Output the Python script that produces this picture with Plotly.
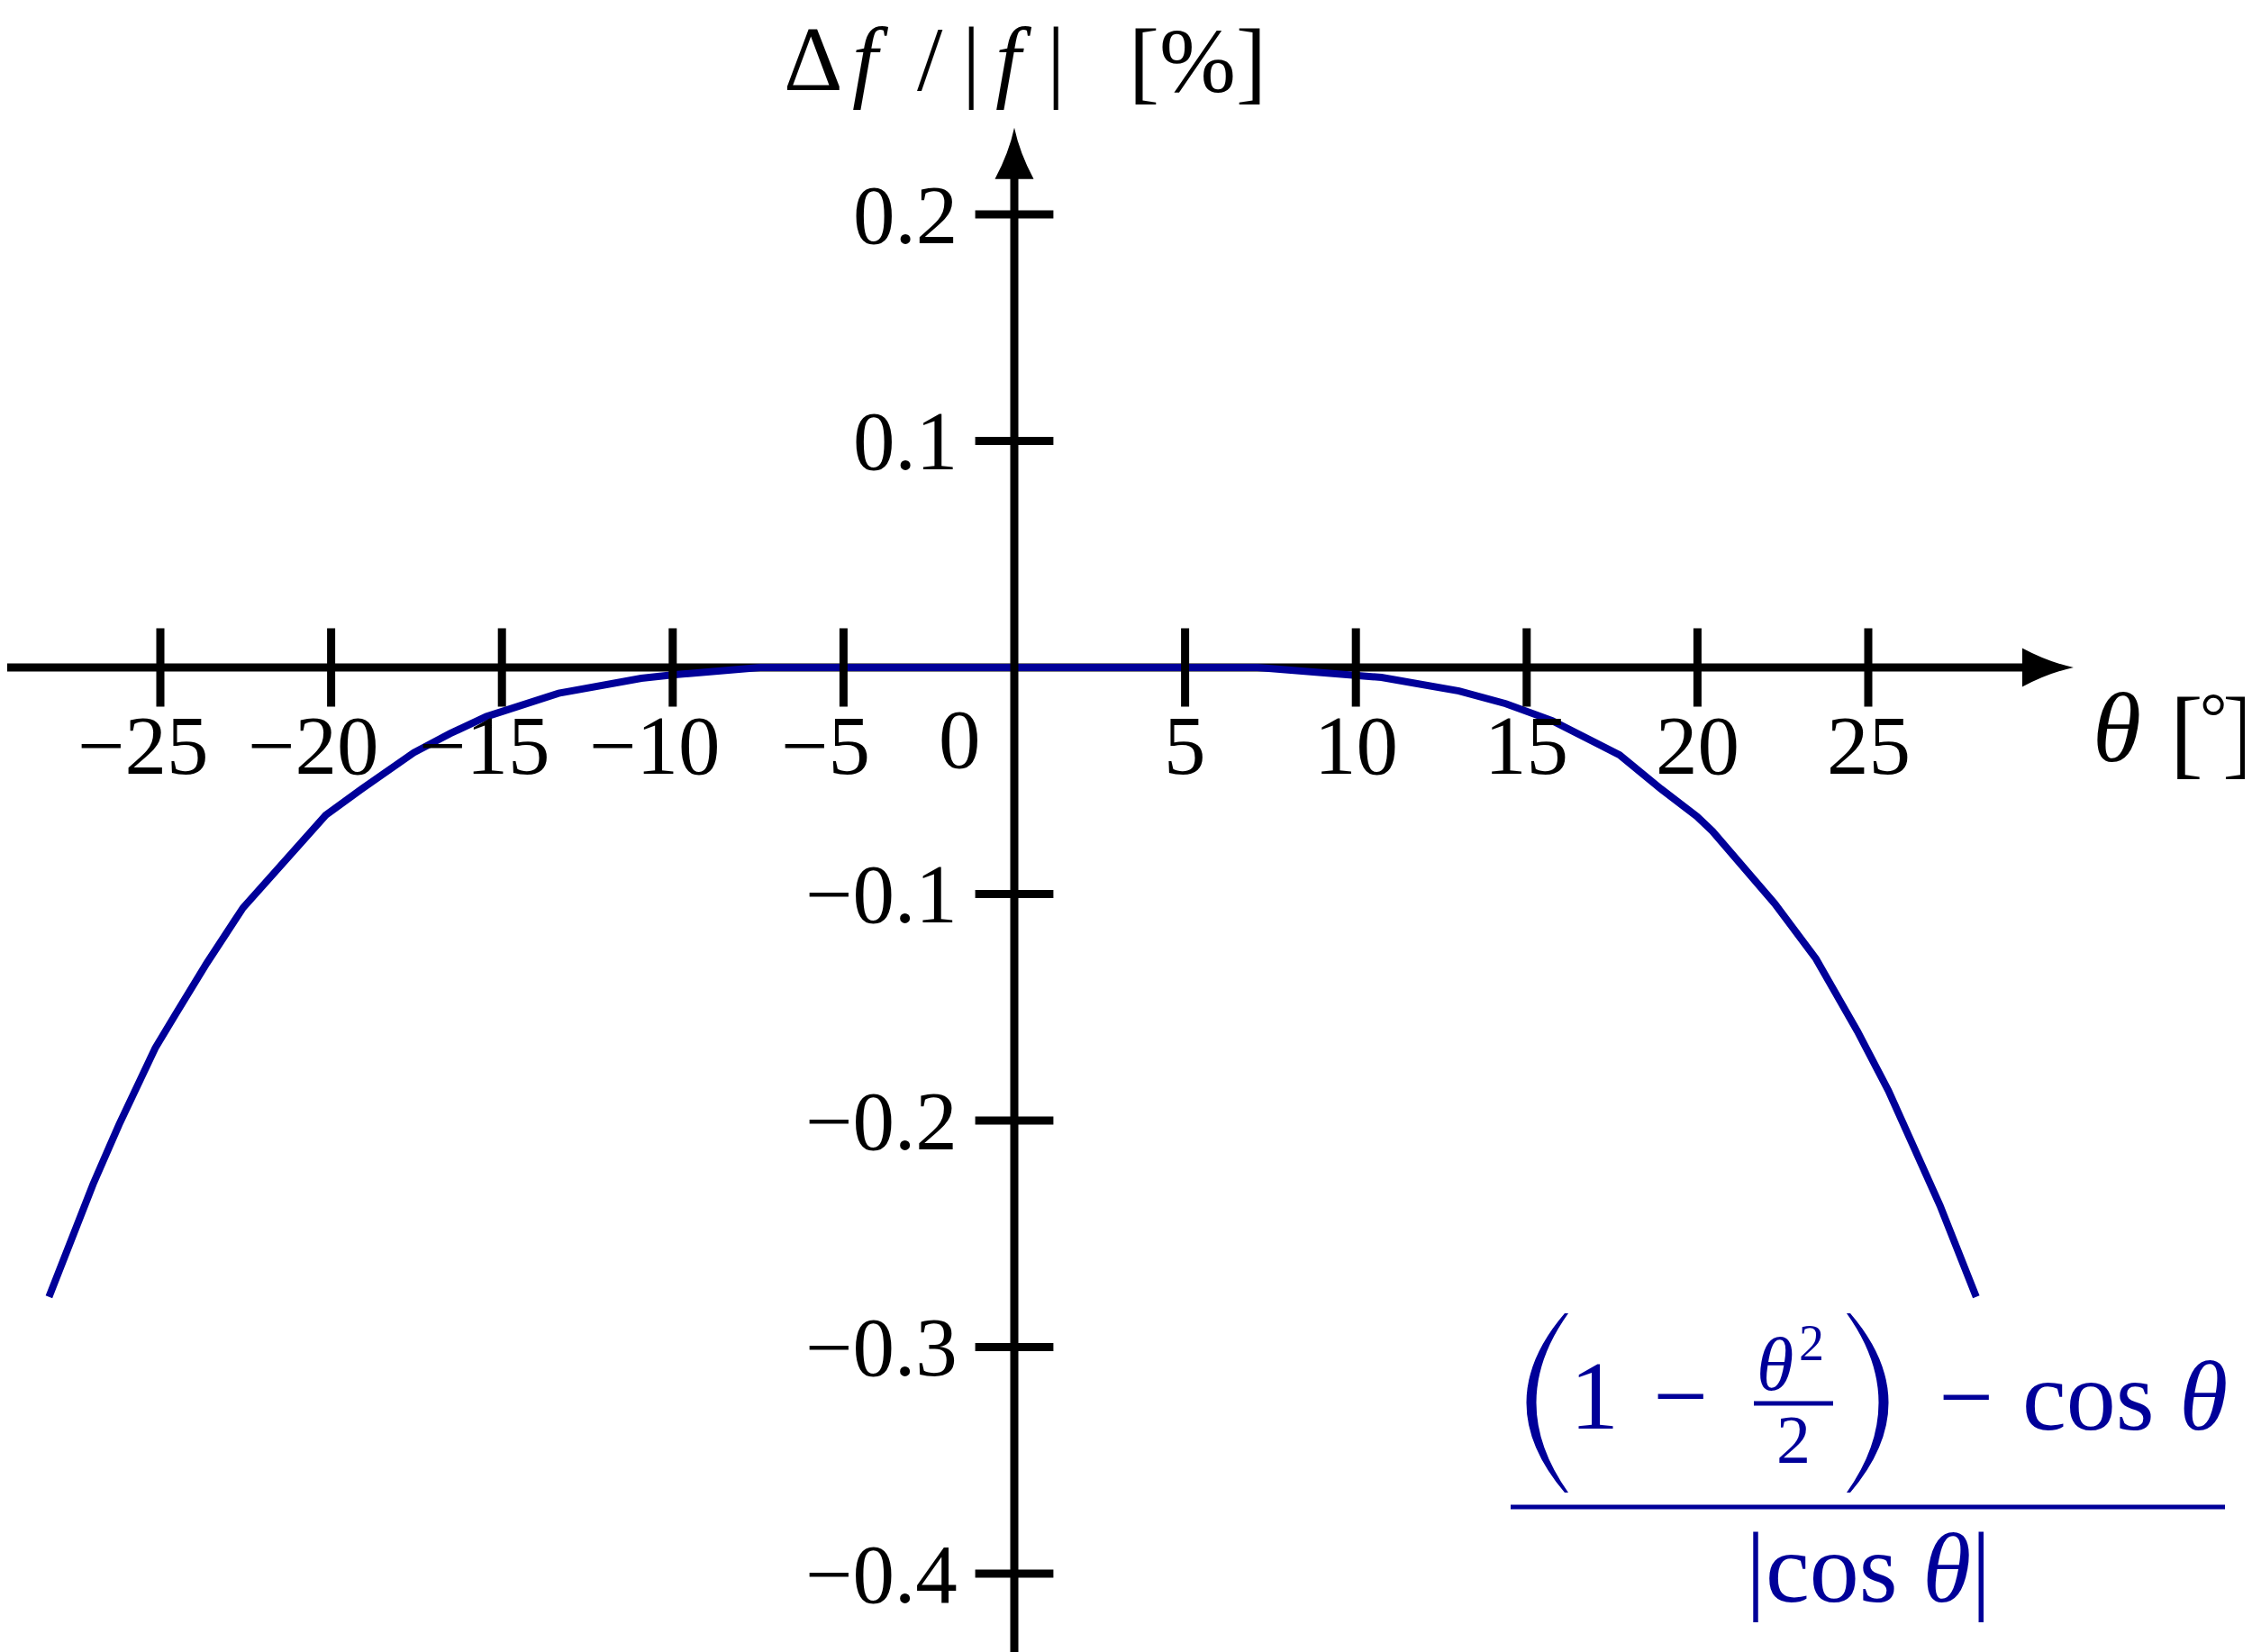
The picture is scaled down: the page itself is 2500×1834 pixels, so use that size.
import plotly.graph_objects as go

# curve (theta in degrees, relative error in %)
theta_deg = [-28.26, -26.97, -26.21, -25.15, -24.55, -23.64, -22.58, -21.52,
             -20.16, -19.10, -17.58, -16.52, -15.46, -13.34, -10.92, -10.01,
             -7.44, 7.12, 9.99, 10.75, 13.02, 14.39, 15.75, 17.72, 18.93,
             19.99, 20.44, 22.26, 23.47, 24.68, 25.59, 26.49, 27.10, 28.16]
delta_pct = [-0.2778, -0.2281, -0.2018, -0.1680, -0.1530, -0.1305, -0.1061, -0.0883,
             -0.0652, -0.0536, -0.0376, -0.0292, -0.0217, -0.0114, -0.0048, -0.0033,
             0.0, 0.0, -0.0033, -0.0044, -0.0104, -0.0160, -0.0235, -0.0386, -0.0536,
             -0.0658, -0.0723, -0.1042, -0.1286, -0.1605, -0.1868, -0.2168, -0.2375, -0.2778]

x_ticks = [-25, -20, -15, -10, -5, 5, 10, 15, 20, 25]
x_tick_labels = ['\u221225', '\u221220', '\u221215', '\u221210', '\u22125',
                 '5', '10', '15', '20', '25']
y_ticks = [0.2, 0.1, -0.1, -0.2, -0.3, -0.4]
y_tick_labels = ['0.2', '0.1', '\u22120.1', '\u22120.2', '\u22120.3', '\u22120.4']

# the page body has an 8px margin, so the figure is a bit smaller than the window
PAGE_PAD = 8
W, H = 2500 - PAGE_PAD, 1834 - PAGE_PAD
ORIGIN_X, ORIGIN_Y = 1126 - PAGE_PAD, 741 - PAGE_PAD   # (0, 0) inside the figure
PX_PER_DEG = 37.92
PX_PER_UNIT = 2515.0
SERIF = 'Liberation Serif'
BLUE = '#000099'
LW = 9

x_range = [(0 - ORIGIN_X) / PX_PER_DEG, (W - ORIGIN_X) / PX_PER_DEG]
y_range = [(ORIGIN_Y - H) / PX_PER_UNIT, ORIGIN_Y / PX_PER_UNIT]

# arrow tips of the two axes
X_TIP = 31.01
Y_TIP = 0.2383
ARROW_LEN = 57
ARROW_HALF = 21.5


# page pixel -> paper fraction
def fx(p):
    return (p - PAGE_PAD) / W


def fy(p):
    return 1 - (p - PAGE_PAD) / H


annotations = []


def text_at(txt, cx, baseline, size, color='black', xanchor='center'):
    # place text so that its baseline lands on the given pixel row
    yc = baseline - 0.3375 * size
    annotations.append(dict(
        text=txt, x=fx(cx), y=fy(yc), xref='paper', yref='paper',
        xanchor=xanchor, yanchor='middle', showarrow=False, borderpad=0,
        font=dict(family=SERIF, size=size, color=color)))


def paper_path(cmds):
    out = []
    for c in cmds:
        if isinstance(c, str):
            out.append(c)
        else:
            out.append('%.5f,%.5f' % (fx(c[0]), fy(c[1])))
    return ' '.join(out)


fig = go.Figure()

fig.add_trace(go.Scatter(
    x=theta_deg, y=delta_pct, mode='lines',
    line=dict(color=BLUE, width=8), hoverinfo='skip'))

fig.add_trace(go.Scatter(
    x=x_ticks, y=[0] * len(x_ticks), mode='markers',
    marker=dict(symbol='line-ns', size=62, line=dict(width=LW, color='black')),
    hoverinfo='skip'))

fig.add_trace(go.Scatter(
    x=[0] * len(y_ticks), y=y_ticks, mode='markers',
    marker=dict(symbol='line-ew', size=62, line=dict(width=LW, color='black')),
    hoverinfo='skip'))

# tick labels
for t, lab in zip(x_ticks, x_tick_labels):
    annotations.append(dict(
        text=lab, x=t, y=0, xref='x', yref='y', xanchor='center', yanchor='middle',
        xshift=-20 if t < 0 else 0, yshift=-86, showarrow=False,
        font=dict(family=SERIF, size=93, color='black')))
annotations.append(dict(
    text='0', x=0, y=0, xref='x', yref='y', xanchor='center', yanchor='middle',
    xshift=-61, yshift=-79, showarrow=False,
    font=dict(family=SERIF, size=93, color='black')))
for t, lab in zip(y_ticks, y_tick_labels):
    annotations.append(dict(
        text=lab, x=0, y=t, xref='x', yref='y', xanchor='right', yanchor='middle',
        xshift=-61, showarrow=False,
        font=dict(family=SERIF, size=93, color='black')))

# y axis title
text_at('\u0394', 903, 100, 102)
text_at('<i>f</i>', 966, 100, 102)
text_at('/', 1032, 100, 102)
text_at('|', 1078, 100, 102)
text_at('<i>f</i>', 1125, 100, 102)
text_at('|', 1172, 100, 102)
text_at('[%]', 1329, 102, 102)
# x axis title
text_at('<i>\u03b8</i>', 2350, 845, 110)
text_at('[', 2427, 850, 110)
text_at('\u00b0', 2457, 822, 76)
text_at(']', 2485, 850, 110)

# formula
text_at('1', 1770, 1586, 108, BLUE)
text_at('\u2212', 1866, 1586, 108, BLUE)
text_at('<i>\u03b8</i>', 1970, 1543, 84, BLUE)
text_at('2', 2011, 1510, 56, BLUE)
text_at('2', 1991, 1624, 76, BLUE)
text_at('\u2212', 2182, 1587, 108, BLUE)
text_at('cos <i>\u03b8</i>', 2359, 1587, 110, BLUE)
text_at('|cos <i>\u03b8</i>|', 2074, 1778, 110, BLUE)

shapes = []
# axes lines
shapes.append(dict(type='line', xref='x', yref='y', layer='below',
                   x0=x_range[0], y0=0, x1=X_TIP - 45 / PX_PER_DEG, y1=0,
                   line=dict(color='black', width=LW)))
shapes.append(dict(type='line', xref='x', yref='y', layer='above',
                   x0=0, y0=y_range[0], x1=0, y1=Y_TIP - 45 / PX_PER_UNIT,
                   line=dict(color='black', width=LW)))
# arrowheads (pixel offsets from the tip, y up)
shapes.append(dict(
    type='path', xref='x', yref='y', xsizemode='pixel', ysizemode='pixel',
    xanchor=X_TIP, yanchor=0, layer='above',
    path='M0,0 Q-28,%g -%g,%g L-%g,-%g Q-28,-%g 0,0 Z' % (
        6, ARROW_LEN, ARROW_HALF, ARROW_LEN, ARROW_HALF, 6),
    fillcolor='black', line=dict(width=0)))
shapes.append(dict(
    type='path', xref='x', yref='y', xsizemode='pixel', ysizemode='pixel',
    xanchor=0, yanchor=Y_TIP, layer='above',
    path='M0,0 Q%g,-28 %g,-%g L-%g,-%g Q-%g,-28 0,0 Z' % (
        6, ARROW_HALF, ARROW_LEN, ARROW_HALF, ARROW_LEN, 6),
    fillcolor='black', line=dict(width=0)))

# big parentheses of the formula
shapes.append(dict(type='path', xref='paper', yref='paper',
                   path=paper_path(['M', (1737, 1458), 'Q', (1652, 1557), (1737, 1657),
                                    'L', (1741, 1657), 'Q', (1670, 1557), (1741, 1458), 'Z']),
                   fillcolor=BLUE, line=dict(width=0)))
shapes.append(dict(type='path', xref='paper', yref='paper',
                   path=paper_path(['M', (2054, 1458), 'Q', (2139, 1557), (2054, 1657),
                                    'L', (2050, 1657), 'Q', (2121, 1557), (2050, 1458), 'Z']),
                   fillcolor=BLUE, line=dict(width=0)))
# fraction bars
shapes.append(dict(type='line', xref='paper', yref='paper',
                   x0=fx(1947), y0=fy(1558), x1=fx(2035), y1=fy(1558),
                   line=dict(color=BLUE, width=5)))
shapes.append(dict(type='line', xref='paper', yref='paper',
                   x0=fx(1677), y0=fy(1673), x1=fx(2470), y1=fy(1673),
                   line=dict(color=BLUE, width=5)))

fig.update_layout(
    width=W, height=H,
    margin=dict(l=0, r=0, t=0, b=0),
    paper_bgcolor='white', plot_bgcolor='white',
    showlegend=False,
    xaxis=dict(range=x_range, visible=False),
    yaxis=dict(range=y_range, visible=False),
    annotations=annotations,
    shapes=shapes,
)

fig.write_html("out.html")
